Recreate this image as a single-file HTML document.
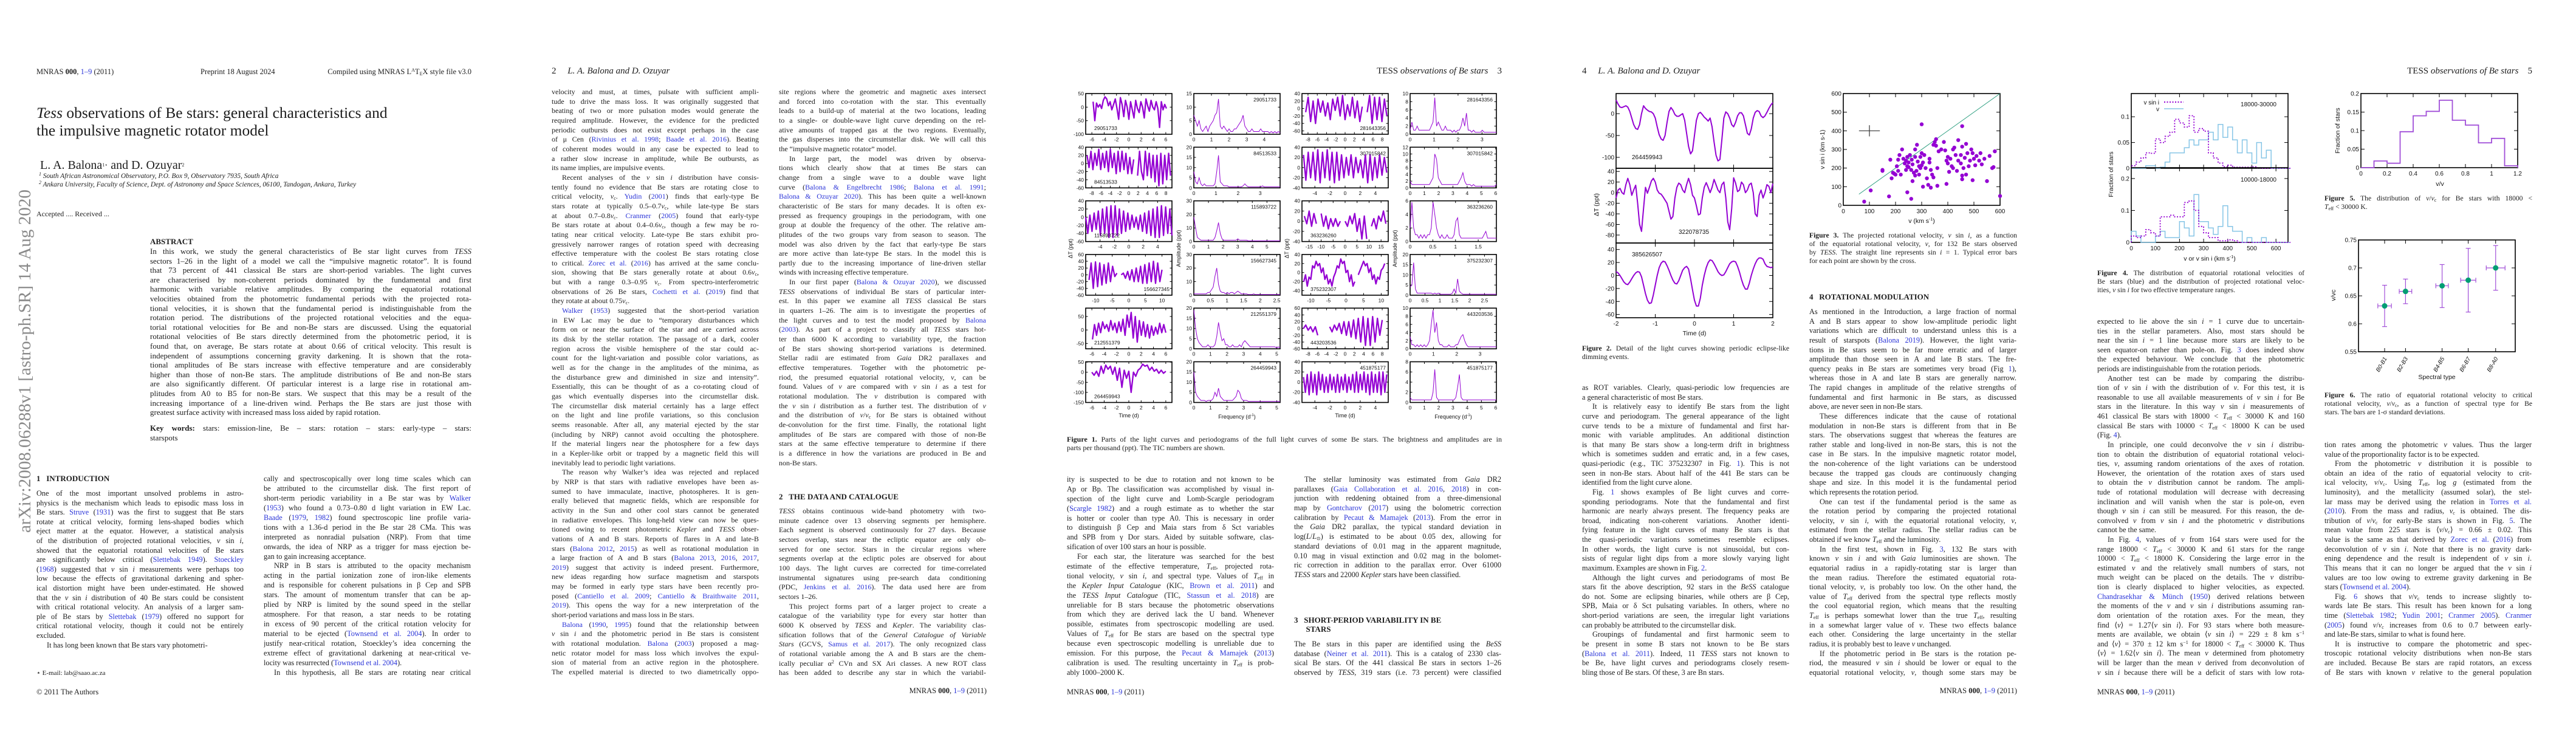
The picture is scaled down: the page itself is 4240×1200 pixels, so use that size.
<!DOCTYPE html>
<html><head><meta charset="utf-8">
<style>
html,body{margin:0;padding:0;background:#fff}
body{width:4240px;height:1200px;position:relative;overflow:hidden;font-family:"Liberation Serif",serif;color:#1c1c1c}
.pg{position:absolute;top:0;width:848px;height:1200px;overflow:hidden;background:#fff}
.abs{position:absolute;white-space:nowrap}
.col{position:absolute;width:341px;font-size:12.3px}
.col>div{height:var(--lh);line-height:var(--lh);overflow:hidden;text-align:justify;text-align-last:justify}
.col>div.e{text-align-last:left}
.col>div.i{text-indent:17px}
.c{color:#2b35d8}
sub{font-size:8px;vertical-align:-2px;line-height:0}
sup{font-size:8px;vertical-align:4px;line-height:0}
.cap{position:absolute;font-size:11.6px}
.cap>div{height:14px;line-height:14px;overflow:hidden;text-align:justify;text-align-last:justify}
.cap>div.e{text-align-last:left}
.hd{position:absolute;font-weight:bold;font-size:13px;white-space:nowrap}
svg.fig{position:absolute;left:0;top:0}
</style></head>
<body>

<!-- PAGE 1 -->
<div class="pg" style="left:0">
<svg class="fig" width="848" height="1200"><text x="0" y="0" transform="translate(50,877) rotate(-90)" font-family="Liberation Serif, serif" font-size="29" fill="#8a8a8a" textLength="565" lengthAdjust="spacingAndGlyphs">arXiv:2008.06288v1  [astro-ph.SR]  14 Aug 2020</text></svg>
<div class="abs" style="left:60px;top:111px;font-size:12.5px">MNRAS <b>000</b>, <span class="c">1–9</span> (2011)</div>
<div class="abs" style="left:330px;top:111px;font-size:12.5px">Preprint 18 August 2024</div>
<div class="abs" style="left:536px;top:111px;font-size:12.5px;width:240px;text-align:right">Compiled using MNRAS L<sup>A</sup>T<sub>E</sub>X style file v3.0</div>
<div class="abs" style="left:60px;top:171px;font-size:25.5px;line-height:29px"><i>Tess</i> observations of Be stars: general characteristics and<br>the impulsive magnetic rotator model</div>
<div class="abs" style="left:66px;top:261px;font-size:20px">L. A. Balona<sup>1⋆</sup> and D. Ozuyar<sup>2</sup></div>
<div class="abs" style="left:64px;top:284px;font-size:11.3px;font-style:italic"><sup>1</sup> South African Astronomical Observatory, P.O. Box 9, Observatory 7935, South Africa</div>
<div class="abs" style="left:64px;top:298px;font-size:11.3px;font-style:italic"><sup>2</sup> Ankara University, Faculty of Science, Dept. of Astronomy and Space Sciences, 06100, Tandogan, Ankara, Turkey</div>
<div class="abs" style="left:60px;top:345px;font-size:12px">Accepted .... Received ...</div>
<div class="hd" style="left:247px;top:390px">ABSTRACT</div>
<div class="col" style="left:247px;top:406px;width:529px;font-size:13px;--lh:15.6px">
<div>In this work, we study the general characteristics of Be star light curves from <i>TESS</i></div>
<div>sectors 1–26 in the light of a model we call the “impulsive magnetic rotator”. It is found</div>
<div>that 73 percent of 441 classical Be stars are short-period variables. The light curves</div>
<div>are characterised by non-coherent periods dominated by the fundamental and first</div>
<div>harmonic with variable relative amplitudes. By comparing the equatorial rotational</div>
<div>velocities obtained from the photometric fundamental periods with the projected rota-</div>
<div>tional velocities, it is shown that the fundamental period is indistinguishable from the</div>
<div>rotation period. The distributions of the projected rotational velocities and the equa-</div>
<div>torial rotational velocities for Be and non-Be stars are discussed. Using the equatorial</div>
<div>rotational velocities of Be stars directly determined from the photometric period, it is</div>
<div>found that, on average, Be stars rotate at about 0.66 of critical velocity. This result is</div>
<div>independent of assumptions concerning gravity darkening. It is shown that the rota-</div>
<div>tional amplitudes of Be stars increase with effective temperature and are considerably</div>
<div>higher than those of non-Be stars. The amplitude distributions of Be and non-Be stars</div>
<div>are also significantly different. Of particular interest is a large rise in rotational am-</div>
<div>plitudes from A0 to B5 for non-Be stars. We suspect that this may be a result of the</div>
<div>increasing importance of a line-driven wind. Perhaps the Be stars are just those with</div>
<div class="e">greatest surface activity with increased mass loss aided by rapid rotation.</div>
</div>
<div class="col" style="left:247px;top:697px;width:529px;font-size:13px;--lh:15.6px">
<div><b>Key words:</b> stars: emission-line, Be – stars: rotation – stars: early-type – stars:</div>
<div class="e">starspots</div>
</div>
<div class="hd" style="left:60px;top:780px">1&nbsp;&nbsp;&nbsp;INTRODUCTION</div>
<div class="col" style="left:60px;top:805px;--lh:15.6px">
<div>One of the most important unsolved problems in astro-</div>
<div>physics is the mechanism which leads to episodic mass loss in</div>
<div>Be stars. <span class="c">Struve</span> (<span class="c">1931</span>) was the first to suggest that Be stars</div>
<div>rotate at critical velocity, forming lens-shaped bodies which</div>
<div>eject matter at the equator. However, a statistical analysis</div>
<div>of the distribution of projected rotational velocities, <i>v</i> sin <i>i</i>,</div>
<div>showed that the equatorial rotational velocities of Be stars</div>
<div>are significantly below critical (<span class="c">Slettebak 1949</span>). <span class="c">Stoeckley</span></div>
<div>(<span class="c">1968</span>) suggested that <i>v</i> sin <i>i</i> measurements were perhaps too</div>
<div>low because the effects of gravitational darkening and spher-</div>
<div>ical distortion might have been under-estimated. He showed</div>
<div>that the <i>v</i> sin <i>i</i> distribution of 40 Be stars could be consistent</div>
<div>with critical rotational velocity. An analysis of a larger sam-</div>
<div>ple of Be stars by <span class="c">Slettebak</span> (<span class="c">1979</span>) offered no support for</div>
<div>critical rotational velocity, though it could not be entirely</div>
<div class="e">excluded.</div>
<div class="i e">It has long been known that Be stars vary photometri-</div>
</div>
<div class="col" style="left:434px;top:781px;--lh:15.95px">
<div>cally and spectroscopically over long time scales which can</div>
<div>be attributed to the circumstellar disk. The first report of</div>
<div>short-term periodic variability in a Be star was by <span class="c">Walker</span></div>
<div>(<span class="c">1953</span>) who found a 0.73–0.80 d light variation in EW Lac.</div>
<div><span class="c">Baade</span> (<span class="c">1979</span>, <span class="c">1982</span>) found spectroscopic line profile varia-</div>
<div>tions with a 1.36-d period in the Be star 28 CMa. This was</div>
<div>interpreted as nonradial pulsation (NRP). From that time</div>
<div>onwards, the idea of NRP as a trigger for mass ejection be-</div>
<div class="e">gan to gain increasing acceptance.</div>
<div class="i">NRP in B stars is attributed to the opacity mechanism</div>
<div>acting in the partial ionization zone of iron-like elements</div>
<div>and is responsible for coherent pulsations in β Cep and SPB</div>
<div>stars. The amount of momentum transfer that can be ap-</div>
<div>plied by NRP is limited by the sound speed in the stellar</div>
<div>atmosphere. For that reason, a star needs to be rotating</div>
<div>in excess of 90 percent of the critical rotation velocity for</div>
<div>material to be ejected (<span class="c">Townsend et al. 2004</span>). In order to</div>
<div>justify near-critical rotation, Stoeckley’s idea concerning the</div>
<div>extreme effect of gravitational darkening at near-critical ve-</div>
<div class="e">locity was resurrected (<span class="c">Townsend et al. 2004</span>).</div>
<div class="i">In this hypothesis, all Be stars are rotating near critical</div>
</div>
<div class="abs" style="left:60px;top:1101px;font-size:11px">⋆ E-mail: lab@saao.ac.za</div>
<div class="abs" style="left:60px;top:1132px;font-size:12.5px">© 2011 The Authors</div>
</div>

<!-- PAGE 2 -->
<div class="pg" style="left:848px">
<div class="abs" style="left:60px;top:109px;font-size:15px">2&nbsp;&nbsp;&nbsp;&nbsp;&nbsp;<i>L. A. Balona and D. Ozuyar</i></div>
<div class="col" style="left:60px;top:144px;font-size:12px;--lh:15.66px">
<div>velocity and must, at times, pulsate with sufficient ampli-</div>
<div>tude to drive the mass loss. It was originally suggested that</div>
<div>beating of two or more pulsation modes would generate the</div>
<div>required amplitude. However, the evidence for the predicted</div>
<div>periodic outbursts does not exist except perhaps in the case</div>
<div>of μ Cen (<span class="c">Rivinius et al. 1998</span>; <span class="c">Baade et al. 2016</span>). Beating</div>
<div>of coherent modes would in any case be expected to lead to</div>
<div>a rather slow increase in amplitude, while Be outbursts, as</div>
<div class="e">its name implies, are impulsive events.</div>
<div class="i">Recent analyses of the <i>v</i> sin <i>i</i> distribution have consis-</div>
<div>tently found no evidence that Be stars are rotating close to</div>
<div>critical velocity, <i>v</i><sub>c</sub>. <span class="c">Yudin</span> (<span class="c">2001</span>) finds that early-type Be</div>
<div>stars rotate at typically 0.5–0.7<i>v</i><sub>c</sub>, while late-type Be stars</div>
<div>at about 0.7–0.8<i>v</i><sub>c</sub>. <span class="c">Cranmer</span> (<span class="c">2005</span>) found that early-type</div>
<div>Be stars rotate at about 0.4–0.6<i>v</i><sub>c</sub>, though a few may be ro-</div>
<div>tating near critical velocity. Late-type Be stars exhibit pro-</div>
<div>gressively narrower ranges of rotation speed with decreasing</div>
<div>effective temperature with the coolest Be stars rotating close</div>
<div>to critical. <span class="c">Zorec et al.</span> (<span class="c">2016</span>) has arrived at the same conclu-</div>
<div>sion, showing that Be stars generally rotate at about 0.6<i>v</i><sub>c</sub>,</div>
<div>but with a range 0.3–0.95 <i>v</i><sub>c</sub>. From spectro-interferometric</div>
<div>observations of 26 Be stars, <span class="c">Cochetti et al.</span> (<span class="c">2019</span>) find that</div>
<div class="e">they rotate at about 0.75<i>v</i><sub>c</sub>.</div>
<div class="i"><span class="c">Walker</span> (<span class="c">1953</span>) suggested that the short-period variation</div>
<div>in EW Lac may be due to “temporary disturbances which</div>
<div>form on or near the surface of the star and are carried across</div>
<div>its disk by the stellar rotation. The passage of a dark, cooler</div>
<div>region across the visible hemisphere of the star could ac-</div>
<div>count for the light-variation and possible color variations, as</div>
<div>well as for the change in the amplitudes of the minima, as</div>
<div>the disturbance grew and diminished in size and intensity”.</div>
<div>Essentially, this can be thought of as a co-rotating cloud of</div>
<div>gas which eventually disperses into the circumstellar disk.</div>
<div>The circumstellar disk material certainly has a large effect</div>
<div>on the light and line profile variations, so this conclusion</div>
<div>seems reasonable. After all, any material ejected by the star</div>
<div>(including by NRP) cannot avoid occulting the photosphere.</div>
<div>If the material lingers near the photosphere for a few days</div>
<div>in a Kepler-like orbit or trapped by a magnetic field this will</div>
<div class="e">inevitably lead to periodic light variations.</div>
<div class="i">The reason why Walker’s idea was rejected and replaced</div>
<div>by NRP is that stars with radiative envelopes have been as-</div>
<div>sumed to have immaculate, inactive, photospheres. It is gen-</div>
<div>erally believed that magnetic fields, which are responsible for</div>
<div>activity in the Sun and other cool stars cannot be generated</div>
<div>in radiative envelopes. This long-held view can now be ques-</div>
<div>tioned owing to recent photometric <i>Kepler</i> and <i>TESS</i> obser-</div>
<div>vations of A and B stars. Reports of flares in A and late-B</div>
<div>stars (<span class="c">Balona 2012</span>, <span class="c">2015</span>) as well as rotational modulation in</div>
<div>a large fraction of A and B stars (<span class="c">Balona 2013</span>, <span class="c">2016</span>, <span class="c">2017</span>,</div>
<div><span class="c">2019</span>) suggest that activity is indeed present. Furthermore,</div>
<div>new ideas regarding how surface magnetism and starspots</div>
<div>may be formed in early type stars have been recently pro-</div>
<div>posed (<span class="c">Cantiello et al. 2009</span>; <span class="c">Cantiello &amp; Braithwaite 2011</span>,</div>
<div><span class="c">2019</span>). This opens the way for a new interpretation of the</div>
<div class="e">short-period variations and mass loss in Be stars.</div>
<div class="i"><span class="c">Balona</span> (<span class="c">1990</span>, <span class="c">1995</span>) found that the relationship between</div>
<div><i>v</i> sin <i>i</i> and the photometric period in Be stars is consistent</div>
<div>with rotational modulation. <span class="c">Balona</span> (<span class="c">2003</span>) proposed a mag-</div>
<div>netic rotator model for mass loss which involves the expul-</div>
<div>sion of material from an active region in the photosphere.</div>
<div>The expelled material is directed to two diametrically oppo-</div>
</div>
<div class="col" style="left:434px;top:144px;font-size:12px;--lh:15.66px">
<div>site regions where the geometric and magnetic axes intersect</div>
<div>and forced into co-rotation with the star. This eventually</div>
<div>leads to a build-up of material at the two locations, leading</div>
<div>to a single- or double-wave light curve depending on the rel-</div>
<div>ative amounts of trapped gas at the two regions. Eventually,</div>
<div>the gas disperses into the circumstellar disk. We will call this</div>
<div class="e">the “impulsive magnetic rotator” model.</div>
<div class="i">In large part, the model was driven by observa-</div>
<div>tions which clearly show that at times Be stars can</div>
<div>change from a single wave to a double wave light</div>
<div>curve (<span class="c">Balona &amp; Engelbrecht 1986</span>; <span class="c">Balona et al. 1991</span>;</div>
<div><span class="c">Balona &amp; Ozuyar 2020</span>). This has been quite a well-known</div>
<div>characteristic of Be stars for many decades. It is often ex-</div>
<div>pressed as frequency groupings in the periodogram, with one</div>
<div>group at double the frequency of the other. The relative am-</div>
<div>plitudes of the two groups vary from season to season. The</div>
<div>model was also driven by the fact that early-type Be stars</div>
<div>are more active than late-type Be stars. In the model this is</div>
<div>partly due to the increasing importance of line-driven stellar</div>
<div class="e">winds with increasing effective temperature.</div>
<div class="i">In our first paper (<span class="c">Balona &amp; Ozuyar 2020</span>), we discussed</div>
<div><i>TESS</i> observations of individual Be stars of particular inter-</div>
<div>est. In this paper we examine all <i>TESS</i> classical Be stars</div>
<div>in quarters 1–26. The aim is to investigate the properties of</div>
<div>the light curves and to test the model proposed by <span class="c">Balona</span></div>
<div>(<span class="c">2003</span>). As part of a project to classify all <i>TESS</i> stars hot-</div>
<div>ter than 6000 K according to variability type, the fraction</div>
<div>of Be stars showing short-period variations is determined.</div>
<div>Stellar radii are estimated from <i>Gaia</i> DR2 parallaxes and</div>
<div>effective temperatures. Together with the photometric pe-</div>
<div>riod, the presumed equatorial rotational velocity, <i>v</i>, can be</div>
<div>found. Values of <i>v</i> are compared with <i>v</i> sin <i>i</i> as a test for</div>
<div>rotational modulation. The <i>v</i> distribution is compared with</div>
<div>the <i>v</i> sin <i>i</i> distribution as a further test. The distribution of <i>v</i></div>
<div>and the distribution of <i>v</i>/<i>v</i><sub>c</sub> for Be stars is obtained without</div>
<div>de-convolution for the first time. Finally, the rotational light</div>
<div>amplitudes of Be stars are compared with those of non-Be</div>
<div>stars at the same effective temperature to determine if there</div>
<div>is a difference in how the variations are produced in Be and</div>
<div class="e">non-Be stars.</div>
</div>
<div class="hd" style="left:434px;top:810px">2&nbsp;&nbsp;&nbsp;THE DATA AND CATALOGUE</div>
<div class="col" style="left:434px;top:834px;font-size:12px;--lh:15.66px">
<div><i>TESS</i> obtains continuous wide-band photometry with two-</div>
<div>minute cadence over 13 observing segments per hemisphere.</div>
<div>Each segment is observed continuously for 27 days. Because</div>
<div>sectors overlap, stars near the ecliptic equator are only ob-</div>
<div>served for one sector. Stars in the circular regions where</div>
<div>segments overlap at the ecliptic poles are observed for about</div>
<div>100 days. The light curves are corrected for time-correlated</div>
<div>instrumental signatures using pre-search data conditioning</div>
<div>(PDC, <span class="c">Jenkins et al. 2016</span>). The data used here are from</div>
<div class="e">sectors 1–26.</div>
<div class="i">This project forms part of a larger project to create a</div>
<div>catalogue of the variability type for every star hotter than</div>
<div>6000 K observed by <i>TESS</i> and <i>Kepler</i>. The variability clas-</div>
<div>sification follows that of the <i>General Catalogue of Variable</i></div>
<div><i>Stars</i> (GCVS, <span class="c">Samus et al. 2017</span>). The only recognized class</div>
<div>of rotational variable among the A and B stars are the chem-</div>
<div>ically peculiar α<sup>2</sup> CVn and SX Ari classes. A new ROT class</div>
<div>has been added to describe any star in which the variabil-</div>
</div>
<div class="abs" style="left:576px;top:1130px;width:200px;text-align:right;font-size:12.5px">MNRAS <b>000</b>, <span class="c">1–9</span> (2011)</div>
</div>

<!-- PAGE 3 -->
<div class="pg" style="left:1696px">
<div class="abs" style="left:520px;top:109px;width:256px;text-align:right;font-size:15px">TESS <i>observations of Be stars</i>&nbsp;&nbsp;&nbsp;&nbsp;3</div>
<svg class="fig" id="fig1" width="848" height="720"></svg>
<div class="cap" style="left:60px;top:716px;width:716px;font-size:12px">
<div><b>Figure 1.</b> Parts of the light curves and periodograms of the full light curves of some Be stars. The brightness and amplitudes are in</div>
<div class="e">parts per thousand (ppt). The TIC numbers are shown.</div>
</div>
<div class="col" style="left:60px;top:782px;--lh:15.9px">
<div>ity is suspected to be due to rotation and not known to be</div>
<div>Ap or Bp. The classification was accomplished by visual in-</div>
<div>spection of the light curve and Lomb-Scargle periodogram</div>
<div>(<span class="c">Scargle 1982</span>) and a rough estimate as to whether the star</div>
<div>is hotter or cooler than type A0. This is necessary in order</div>
<div>to distinguish β Cep and Maia stars from δ Sct variables</div>
<div>and SPB from γ Dor stars. Aided by suitable software, clas-</div>
<div class="e">sification of over 100 stars an hour is possible.</div>
<div class="i">For each star, the literature was searched for the best</div>
<div>estimate of the effective temperature, <i>T</i><sub>eff</sub>, projected rota-</div>
<div>tional velocity, <i>v</i> sin <i>i</i>, and spectral type. Values of <i>T</i><sub>eff</sub> in</div>
<div>the <i>Kepler Input Catalogue</i> (KIC, <span class="c">Brown et al. 2011</span>) and</div>
<div>the <i>TESS Input Catalogue</i> (TIC, <span class="c">Stassun et al. 2018</span>) are</div>
<div>unreliable for B stars because the photometric observations</div>
<div>from which they are derived lack the U band. Whenever</div>
<div>possible, estimates from spectroscopic modelling are used.</div>
<div>Values of <i>T</i><sub>eff</sub> for Be stars are based on the spectral type</div>
<div>because even spectroscopic modelling is unreliable due to</div>
<div>emission. For this purpose, the <span class="c">Pecaut &amp; Mamajek</span> (<span class="c">2013</span>)</div>
<div>calibration is used. The resulting uncertainty in <i>T</i><sub>eff</sub> is prob-</div>
<div class="e">ably 1000–2000 K.</div>
</div>
<div class="col" style="left:434px;top:782px;--lh:15.7px">
<div class="i">The stellar luminosity was estimated from <i>Gaia</i> DR2</div>
<div>parallaxes (<span class="c">Gaia Collaboration et al. 2016</span>, <span class="c">2018</span>) in con-</div>
<div>junction with reddening obtained from a three-dimensional</div>
<div>map by <span class="c">Gontcharov</span> (<span class="c">2017</span>) using the bolometric correction</div>
<div>calibration by <span class="c">Pecaut &amp; Mamajek</span> (<span class="c">2013</span>). From the error in</div>
<div>the <i>Gaia</i> DR2 parallax, the typical standard deviation in</div>
<div>log(<i>L</i>/<i>L</i><sub>⊙</sub>) is estimated to be about 0.05 dex, allowing for</div>
<div>standard deviations of 0.01 mag in the apparent magnitude,</div>
<div>0.10 mag in visual extinction and 0.02 mag in the bolomet-</div>
<div>ric correction in addition to the parallax error. Over 61000</div>
<div class="e"><i>TESS</i> stars and 22000 <i>Kepler</i> stars have been classified.</div>
</div>
<div class="hd" style="left:434px;top:1013px;line-height:15px">3&nbsp;&nbsp;&nbsp;SHORT-PERIOD VARIABILITY IN BE<br>&nbsp;&nbsp;&nbsp;&nbsp;&nbsp;&nbsp;STARS</div>
<div class="col" style="left:434px;top:1053px;--lh:15.7px">
<div>The Be stars in this paper are identified using the <i>BeSS</i></div>
<div>database (<span class="c">Neiner et al. 2011</span>). This is a catalog of 2330 clas-</div>
<div>sical Be stars. Of the 441 classical Be stars in sectors 1–26</div>
<div>observed by <i>TESS</i>, 319 stars (i.e. 73 percent) were classified</div>
</div>
<div class="abs" style="left:60px;top:1132px;font-size:12.5px">MNRAS <b>000</b>, <span class="c">1–9</span> (2011)</div>
</div>

<!-- PAGE 4 -->
<div class="pg" style="left:2544px">
<div class="abs" style="left:60px;top:109px;font-size:15px">4&nbsp;&nbsp;&nbsp;&nbsp;&nbsp;<i>L. A. Balona and D. Ozuyar</i></div>
<svg class="fig" id="fig23" width="848" height="600"></svg>
<div class="cap" style="left:60px;top:567px;width:341px">
<div><b>Figure 2.</b> Detail of the light curves showing periodic eclipse-like</div>
<div class="e">dimming events.</div>
</div>
<div class="cap" style="left:434px;top:381px;width:342px">
<div><b>Figure 3.</b> The projected rotational velocity, <i>v</i> sin <i>i</i>, as a function</div>
<div>of the equatorial rotational velocity, <i>v</i>, for 132 Be stars observed</div>
<div>by <i>TESS</i>. The straight line represents sin <i>i</i> = 1. Typical error bars</div>
<div class="e">for each point are shown by the cross.</div>
</div>
<div class="col" style="left:60px;top:631px;--lh:15.63px">
<div>as ROT variables. Clearly, quasi-periodic low frequencies are</div>
<div class="e">a general characteristic of most Be stars.</div>
<div class="i">It is relatively easy to identify Be stars from the light</div>
<div>curve and periodogram. The general appearance of the light</div>
<div>curve tends to be a mixture of fundamental and first har-</div>
<div>monic with variable amplitudes. An additional distinction</div>
<div>is that many Be stars show a long-term drift in brightness</div>
<div>which is sometimes sudden and erratic and, in a few cases,</div>
<div>quasi-periodic (e.g., TIC 375232307 in Fig. <span class="c">1</span>). This is not</div>
<div>seen in non-Be stars. About half of the 441 Be stars can be</div>
<div class="e">identified from the light curve alone.</div>
<div class="i">Fig. <span class="c">1</span> shows examples of Be light curves and corre-</div>
<div>sponding periodograms. Note that the fundamental and first</div>
<div>harmonic are nearly always present. The frequency peaks are</div>
<div>broad, indicating non-coherent variations. Another identi-</div>
<div>fying feature in the light curves of many Be stars is that</div>
<div>the quasi-periodic variations sometimes resemble eclipses.</div>
<div>In other words, the light curve is not sinusoidal, but con-</div>
<div>sists of regular light dips from a more slowly varying light</div>
<div class="e">maximum. Examples are shown in Fig. <span class="c">2</span>.</div>
<div class="i">Although the light curves and periodograms of most Be</div>
<div>stars fit the above description, 92 stars in the <i>BeSS</i> catalogue</div>
<div>do not. Some are eclipsing binaries, while others are β Cep,</div>
<div>SPB, Maia or δ Sct pulsating variables. In others, where no</div>
<div>short-period variations are seen, the irregular light variations</div>
<div class="e">can probably be attributed to the circumstellar disk.</div>
<div class="i">Groupings of fundamental and first harmonic seem to</div>
<div>be present in some B stars not known to be Be stars</div>
<div>(<span class="c">Balona et al. 2011</span>). Indeed, 11 <i>TESS</i> stars not known to</div>
<div>be Be, have light curves and periodograms closely resem-</div>
<div class="e">bling those of Be stars. Of these, 3 are Bn stars.</div>
</div>
<div class="hd" style="left:434px;top:481px">4&nbsp;&nbsp;&nbsp;ROTATIONAL MODULATION</div>
<div class="col" style="left:434px;top:506px;--lh:15.63px">
<div>As mentioned in the Introduction, a large fraction of normal</div>
<div>A and B stars appear to show low-amplitude periodic light</div>
<div>variations which are difficult to understand unless this is a</div>
<div>result of starspots (<span class="c">Balona 2019</span>). However, the light varia-</div>
<div>tions in Be stars seem to be far more erratic and of larger</div>
<div>amplitude than those seen in A and late B stars. The fre-</div>
<div>quency peaks in Be stars are sometimes very broad (Fig <span class="c">1</span>),</div>
<div>whereas those in A and late B stars are generally narrow.</div>
<div>The rapid changes in amplitude of the relative strengths of</div>
<div>fundamental and first harmonic in Be stars, as discussed</div>
<div class="e">above, are never seen in non-Be stars.</div>
<div class="i">These differences indicate that the cause of rotational</div>
<div>modulation in non-Be stars is different from that in Be</div>
<div>stars. The observations suggest that whereas the features are</div>
<div>rather stable and long-lived in non-Be stars, this is not the</div>
<div>case in Be stars. In the impulsive magnetic rotator model,</div>
<div>the non-coherence of the light variations can be understood</div>
<div>because the trapped gas clouds are continuously changing</div>
<div>shape and size. In this model it is the fundamental period</div>
<div class="e">which represents the rotation period.</div>
<div class="i">One can test if the fundamental period is the same as</div>
<div>the rotation period by comparing the projected rotational</div>
<div>velocity, <i>v</i> sin <i>i</i>, with the equatorial rotational velocity, <i>v</i>,</div>
<div>estimated from the stellar radius. The stellar radius can be</div>
<div class="e">obtained if we know <i>T</i><sub>eff</sub> and the luminosity.</div>
<div class="i">In the first test, shown in Fig. <span class="c">3</span>, 132 Be stars with</div>
<div>known <i>v</i> sin <i>i</i> and with <i>Gaia</i> luminosities are shown. The</div>
<div>equatorial radius in a rapidly-rotating star is larger than</div>
<div>the mean radius. Therefore the estimated equatorial rota-</div>
<div>tional velocity, <i>v</i>, is probably too low. On the other hand, the</div>
<div>value of <i>T</i><sub>eff</sub> derived from the spectral type reflects mostly</div>
<div>the cool equatorial region, which means that the resulting</div>
<div><i>T</i><sub>eff</sub> is perhaps somewhat lower than the true <i>T</i><sub>eff</sub>, resulting</div>
<div>in a somewhat larger value of <i>v</i>. These two effects balance</div>
<div>each other. Considering the large uncertainty in the stellar</div>
<div class="e">radius, it is probably best to leave <i>v</i> unchanged.</div>
<div class="i">If the photometric period in Be stars is the rotation pe-</div>
<div>riod, the measured <i>v</i> sin <i>i</i> should be lower or equal to the</div>
<div>equatorial rotational velocity, <i>v</i>, though some stars may be</div>
</div>
<div class="abs" style="left:576px;top:1130px;width:200px;text-align:right;font-size:12.5px">MNRAS <b>000</b>, <span class="c">1–9</span> (2011)</div>
</div>

<!-- PAGE 5 -->
<div class="pg" style="left:3392px">
<div class="abs" style="left:520px;top:109px;width:256px;text-align:right;font-size:15px">TESS <i>observations of Be stars</i>&nbsp;&nbsp;&nbsp;&nbsp;5</div>
<svg class="fig" id="fig456" width="848" height="640"></svg>
<div class="cap" style="left:60px;top:443px;width:341px">
<div><b>Figure 4.</b> The distribution of equatorial rotational velocities of</div>
<div>Be stars (blue) and the distribution of projected rotational veloc-</div>
<div class="e">ities, <i>v</i> sin <i>i</i> for two effective temperature ranges.</div>
</div>
<div class="cap" style="left:434px;top:320px;width:342px">
<div><b>Figure 5.</b> The distribution of <i>v</i>/<i>v</i><sub>c</sub> for Be stars with 18000 &lt;</div>
<div class="e"><i>T</i><sub>eff</sub> &lt; 30000 K.</div>
</div>
<div class="cap" style="left:434px;top:644px;width:342px">
<div><b>Figure 6.</b> The ratio of equatorial rotational velocity to critical</div>
<div>rotational velocity, <i>v</i>/<i>v</i><sub>c</sub>, as a function of spectral type for Be</div>
<div class="e">stars. The bars are 1-σ standard deviations.</div>
</div>
<div class="col" style="left:60px;top:522px;--lh:15.62px">
<div>expected to lie above the sin <i>i</i> = 1 curve due to uncertain-</div>
<div>ties in the stellar parameters. Also, most stars should be</div>
<div>near the sin <i>i</i> = 1 line because more stars are likely to be</div>
<div>seen equator-on rather than pole-on. Fig. <span class="c">3</span> does indeed show</div>
<div>the expected behaviour. We conclude that the photometric</div>
<div class="e">periods are indistinguishable from the rotation periods.</div>
<div class="i">Another test can be made by comparing the distribu-</div>
<div>tion of <i>v</i> sin <i>i</i> with the distribution of <i>v</i>. For this test, it is</div>
<div>reasonable to use all available measurements of <i>v</i> sin <i>i</i> for Be</div>
<div>stars in the literature. In this way <i>v</i> sin <i>i</i> measurements of</div>
<div>461 classical Be stars with 18000 &lt; <i>T</i><sub>eff</sub> &lt; 30000 K and 160</div>
<div>classical Be stars with 10000 &lt; <i>T</i><sub>eff</sub> &lt; 18000 K can be used</div>
<div class="e">(Fig. <span class="c">4</span>).</div>
<div class="i">In principle, one could deconvolve the <i>v</i> sin <i>i</i> distribu-</div>
<div>tion to obtain the distribution of equatorial rotational veloci-</div>
<div>ties, <i>v</i>, assuming random orientations of the axes of rotation.</div>
<div>However, the orientation of the rotation axes of stars used</div>
<div>to obtain the <i>v</i> distribution cannot be random. The ampli-</div>
<div>tude of rotational modulation will decrease with decreasing</div>
<div>inclination and will vanish when the star is pole-on, even</div>
<div>though <i>v</i> sin <i>i</i> can still be measured. For this reason, the de-</div>
<div>convolved <i>v</i> from <i>v</i> sin <i>i</i> and the photometric <i>v</i> distributions</div>
<div class="e">cannot be the same.</div>
<div class="i">In Fig. <span class="c">4</span>, values of <i>v</i> from 164 stars were used for the</div>
<div>range 18000 &lt; <i>T</i><sub>eff</sub> &lt; 30000 K and 61 stars for the range</div>
<div>10000 &lt; <i>T</i><sub>eff</sub> &lt; 18000 K. Considering the large error in the</div>
<div>estimated <i>v</i> and the relatively small numbers of stars, not</div>
<div>much weight can be placed on the details. The <i>v</i> distribu-</div>
<div>tion is clearly displaced to higher velocities, as expected.</div>
<div><span class="c">Chandrasekhar &amp; Münch</span> (<span class="c">1950</span>) derived relations between</div>
<div>the moments of the <i>v</i> and <i>v</i> sin <i>i</i> distributions assuming ran-</div>
<div>dom orientation of the rotation axes. For the mean, they</div>
<div>find ⟨<i>v</i>⟩ = 1.27⟨<i>v</i> sin <i>i</i>⟩. For 93 stars where both measure-</div>
<div>ments are available, we obtain ⟨<i>v</i> sin <i>i</i>⟩ = 229 ± 8 km s<sup>−1</sup></div>
<div>and ⟨<i>v</i>⟩ = 370 ± 12 km s<sup>−1</sup> for 18000 &lt; <i>T</i><sub>eff</sub> &lt; 30000 K. Thus</div>
<div>⟨<i>v</i>⟩ = 1.62⟨<i>v</i> sin <i>i</i>⟩. The mean <i>v</i> determined from photometry</div>
<div>will be larger than the mean <i>v</i> derived from deconvolution of</div>
<div><i>v</i> sin <i>i</i> because there will be a deficit of stars with low rota-</div>
</div>
<div class="col" style="left:434px;top:725px;--lh:15.62px">
<div>tion rates among the photometric <i>v</i> values. Thus the larger</div>
<div class="e">value of the proportionality factor is to be expected.</div>
<div class="i">From the photometric <i>v</i> distribution it is possible to</div>
<div>obtain an idea of the ratio of equatorial velocity to crit-</div>
<div>ical velocity, <i>v</i>/<i>v</i><sub>c</sub>. Using <i>T</i><sub>eff</sub>, log <i>g</i> (estimated from the</div>
<div>luminosity), and the metallicity (assumed solar), the stel-</div>
<div>lar mass may be derived using the relation in <span class="c">Torres et al.</span></div>
<div>(<span class="c">2010</span>). From the mass and radius, <i>v</i><sub>c</sub> is obtained. The dis-</div>
<div>tribution of <i>v</i>/<i>v</i><sub>c</sub> for early-Be stars is shown in Fig. <span class="c">5</span>. The</div>
<div>mean value from 225 stars is ⟨<i>v</i>/<i>v</i><sub>c</sub>⟩ = 0.66 ± 0.02. This</div>
<div>value is the same as that derived by <span class="c">Zorec et al.</span> (<span class="c">2016</span>) from</div>
<div>deconvolution of <i>v</i> sin <i>i</i>. Note that there is no gravity dark-</div>
<div>ening dependence and the result is independent of <i>v</i> sin <i>i</i>.</div>
<div>This means that it can no longer be argued that the <i>v</i> sin <i>i</i></div>
<div>values are too low owing to extreme gravity darkening in Be</div>
<div class="e">stars (<span class="c">Townsend et al. 2004</span>).</div>
<div class="i">Fig. <span class="c">6</span> shows that <i>v</i>/<i>v</i><sub>c</sub> tends to increase slightly to-</div>
<div>wards late Be stars. This result has been known for a long</div>
<div>time (<span class="c">Slettebak 1982</span>; <span class="c">Yudin 2001</span>; <span class="c">Cranmer 2005</span>). <span class="c">Cranmer</span></div>
<div>(<span class="c">2005</span>) found <i>v</i>/<i>v</i><sub>c</sub> increases from 0.6 to 0.7 between early-</div>
<div class="e">and late-Be stars, similar to what is found here.</div>
<div class="i">It is instructive to compare the photometric and spec-</div>
<div>troscopic rotational velocity distributions when non-Be stars</div>
<div>are included. Because Be stars are rapid rotators, an excess</div>
<div>of Be stars with known <i>v</i> relative to the general population</div>
</div>
<div class="abs" style="left:60px;top:1132px;font-size:12.5px">MNRAS <b>000</b>, <span class="c">1–9</span> (2011)</div>
</div>

<script>
// ===== Figure 1 data =====
const lcIds = ['29051733','281643356','84513533','307015842','115893722','363236260','156627345','375232307','212551379','443203536','264459943','451875177'];
const lcX0 = [-5.8,-8.5,-9,-5.5,-6,-17,-12,-12,-5.9,-9,-6,-5.5];
const lcX1 = [6.1,9,9,5.5,6,17,10,11,6,8,6,5.5];
const lcYmin = [-100,-69,-60,-40,-60,-40,-60,-50,-70,-60,-150,-40];
const lcYmax = [50,40,40,40,40,40,60,40,81,60,52,40];
const lcYticks = [[50,0,-50,-100],[40,20,0,-20,-40,-60],[40,20,0,-20,-40,-60],[40,20,0,-20,-40],[40,20,0,-20,-40,-60],[40,20,0,-20,-40],[60,40,20,0,-20,-40,-60],[40,20,0,-20,-40],[50,0,-50],[60,40,20,0,-20,-40,-60],[50,0,-50,-100,-150],[40,20,0,-20,-40]];
const lcXmin = [-7,-9.3,-9.3,-5.7,-6,-18,-13,-12.5,-7,-9.3,-7,-5.7];
const lcXmax = [7,9.3,9.3,5.7,6,18,13,12,7,9.3,7,5.7];
const lcXticks = [[-6,-4,-2,0,2,4,6],[-8,-6,-4,-2,0,2,4,6,8],[-8,-6,-4,-2,0,2,4,6,8],[-4,-2,0,2,4],[-4,-2,0,2,4],[-15,-10,-5,0,5,10,15],[-10,-5,0,5,10],[-10,-5,0,5,10],[-6,-4,-2,0,2,4,6],[-8,-6,-4,-2,0,2,4,6,8],[-6,-4,-2,0,2,4,6],[-4,-2,0,2,4]];
const lc0 = [20,-50,15,0,10,-5,25,38,30,5,20,-10,10,30,-5,-45,35,10,-35,25,0,-45,20,-10,-40,25,-5,-20,20,0,-40,30,5,-15,25,0,-10,20,-5,-75,20,-10,10,-5];
const lc1 = [-10,30,-35,20,-40,25,-10,20,-20,15,-30,25,-5,30,-20,35,-30,10,-20,30,-25,20,-35,5,null,-10,35,-40,30,-30,30,-35,25,-20];
const lc2 = [20,-10,30,-15,25,-5,35,-15,25,-10,30,-20,35,-10,25,-25,30,-20,30,-15,25,-25,15,-25,10,null,-30,30,-20,-40,30,-30,25,-35,20,-45,20,-55,25,-50,20,-40,25,-30];
const lc3 = [25,-25,30,-20,30,-25,35,-30,30,-20,35,-25,30,-30,30,-25,25,-20,20,-15,25,-20,20,-10,15,-20,25,-30,25,-25,20,-20,25,-15,20,-10];
const lc4 = [0,-40,5,-35,10,-30,15,-45,20,-40,25,-50,28,-50,28,-45,20,-40,15,-35,10,-30,5,-25,0,-30,5,-35,10,-40,15,-45,20,-50,25,-50,28,-45,25,-40,20,-45];
const lc5 = [10,-5,20,-10,15,-5,null,15,-10,10,-15,5,-10,5,-10,0,null,0,-10,10,-5,15,-20,5,-35,10,-35,null,-10,5,-15,10,0,20,-5];
const lc6 = [-15,35,-40,38,-35,35,-30,30,-25,35,-20,25,-5,5,null,0,5,-10,10,-15,15,-20,20,-20,25,-25,30,-25,35,-20,40,-25,35,-20,15];
const lc7 = [-20,-5,-30,-10,-15,15,10,25,15,20,0,10,-15,-5,-25,-15,-30,-10,0,15,10,30,20,25,0,5,-20,-5,-30,-20,null,-5,5,15,25,15,20,0,10,-15,-5,-25,-10,-15,5,10,20];
const lc8 = [-35,20,-20,25,-10,30,5,20,-5,35,0,25,-10,30,-5,40,-20,55,10,65,-30,50,-45,35,-20,30,-25,20,-30,15,-20,10,-15,25,-10,20,-10];
const lc9 = [0,10,-5,5,-10,5,-20,null,null,null,null,5,-10,10,-5,15,-15,20,-20,20,-25,25,-30,30,-40,35,-50,30,-50,35,-40,30,-20,25];
const lc10 = [0,-15,5,-20,30,-5,35,15,30,-10,25,-40,20,-75,10,-30,5,-100,0,-20,10,20,40,30,35,10,25,5,15,-5,10,-5,5];
const lc11 = [10,-20,15,-25,20,-20,15,-25,20,-15,15,-20,10,-20,15,-15,10,-20,15,-20,10,-15,15,-20,10,-15,15,-20,20,-20,15,-15,20,-20,15,-25,20,-20,15,-20,20,-25,20,-20,15];
const lcVals = [lc0,lc1,lc2,lc3,lc4,lc5,lc6,lc7,lc8,lc9,lc10,lc11];

const pgXmax = [4.9,3.6,3.9,6.05,5.9,1.9,2.6,2.9,5.2,3.7,5.2,6.05];
const pgYmax = [15,10,20,12,30,6,30,20,20,10,20,8];
const pgYticks = [[0,5,10,15],[0,2,4,6,8,10],[0,5,10,15,20],[0,2,4,6,8,10,12],[0,10,20,30],[0,2,4,6],[0,10,20,30],[0,5,10,15,20],[0,5,10,15,20],[0,2,4,6,8,10],[0,5,10,15,20],[0,2,4,6,8]];
const pgXticks = [[0,1,2,3,4],[0,1,2,3],[0,1,2,3],[0,1,2,3,4,5,6],[0,1,2,3,4,5],[0,0.5,1,1.5],[0,0.5,1,1.5,2,2.5],[0,0.5,1,1.5,2,2.5],[0,1,2,3,4,5],[0,1,2,3],[0,1,2,3,4,5],[0,1,2,3,4,5,6]];
const pg0 = [7,5,3,5,2,1,2,3,1,3,4,5,7,8,13,3,2,3,2,1,2,1,1,2,2,3,4,5,7,3,2,1,1,2,1,1,1,1,2,1,1,1,1,0.5,1,0.5,1,0.5,1,0.5];
const pg1 = [1,3,1,1,2,1,1,1,1,1,1,1,2,3,9,2,3,2,1,1,2,1,1,1,0.5,1,0.5,1,1,2,4,2,5.2,1,1,0.5,1,0.5,0.5,0.5,0.5,1,0.5,0.5,0.5,0.5,0.5,0.5,0.5,0.5];
const pg2 = [8,3,2,5,2,1,2,1,1,1,1,1,2,8,16,3,2,1,1,1,0.5,0.5,0.5,0.5,0.5,0.5,0.5,0.5,1,2,1,0.5,0.5,0.5,0.5,0.5,0.5,0.5,0.5,1,0.5,0.5,0.5,0.5,0.5,0.5,0.5,0.5,0.5,0.5];
const pg3 = [2,1,1,1,1,1,1,1,1,1,1,1,2,3,10,8.5,3,2,1,1,1,1,1,1,1,1,1,1,2,3,4.5,2,1,1,1,0.5,1,0.5,0.5,0.5,0.5,0.5,0.5,0.5,0.5,0.5,0.5,0.5,0.5,1];
const pg4 = [18,10,3,2,1,1,1,1,1,1,1,1,3,8,14,6,2,1,1,1,1,1,1,1,1,2,1,1,1,1,1,0.5,0.5,0.5,0.5,0.5,0.5,0.5,0.5,0.5,0.5,0.5,0.5,0.5,0.5,0.5,0.5,0.5,0.5,0.5];
const pg5 = [2,5.8,2,1,1,0.5,1,0.5,1,0.5,1,1,2,5.8,4,2,1,0.5,1,0.5,0.5,1,0.5,0.5,0.5,1,3,3.5,1,0.5,0.5,0.5,0.5,0.5,0.5,0.5,0.5,0.5,0.5,0.5,0.5,0.5,1,1.5,0.5,0.5,0.5,0.5,0.5,0.5];
const pg6 = [1,1,1,1,1,1,1,1,2,2,4,6,14,20,8,3,2,2,1,2,1,2,2,1,2,3,2,1,1,1,1,0.5,0.5,0.5,1,0.5,0.5,0.5,0.5,0.5,0.5,0.5,0.5,0.5,0.5,0.5,0.5,0.5,0.5,0.5];
const pg7 = [4,5,16,3,1,1,1,1,1,1,1,1,1,0.5,1,0.5,1,0.5,0.5,0.5,0.5,0.5,0.5,0.5,1,3,1,8,2,1,0.5,0.5,0.5,0.5,0.5,0.5,0.5,0.5,0.5,0.5,0.5,0.5,0.5,0.5,0.5,0.5,0.5,0.5,0.5,0.5];
const pg8 = [19,10,5,3,2,1,1,1,2,1,1,1,2,6,13,8,4,5,2,2,1,1,2,1,1,1,2,1,3,4,3,2,1,1,1,1,1,1,1,1,1,1,1,1,1,1,1,0.5,1,0.5];
const pg9 = [3,1,1,0.5,1,0.5,1,0.5,1,0.5,1,2,6,9.5,4,6.5,2,1,1,0.5,0.5,0.5,1,0.5,0.5,0.5,1,1,2,3,3.5,2,1,0.5,0.5,0.5,0.5,0.5,0.5,0.5,0.5,0.5,0.5,0.5,0.5,0.5,0.5,0.5,0.5,0.5];
const pg10 = [15,5,3,2,1,1,1,0.5,1,1,1,2,5,3,7,3,2,1,1,1,1,1,1,2,3,6,5,2,1,1,1,0.5,0.5,0.5,0.5,0.5,0.5,0.5,0.5,0.5,0.5,0.5,0.5,0.5,0.5,0.5,0.5,0.5,0.5,0.5];
const pg11 = [1,0.5,0.5,0.5,0.5,0.5,0.5,0.5,0.5,0.5,0.5,0.5,0.5,2,6.5,1,0.5,0.5,0.5,0.5,0.5,0.5,0.5,0.5,0.5,0.5,1,3,5.5,1,0.5,0.5,0.5,0.5,0.5,0.5,0.5,0.5,0.5,0.5,0.5,0.5,0.5,0.5,0.5,0.5,0.5,0.5,0.5,0.5];
const pgVals = [pg0,pg1,pg2,pg3,pg4,pg5,pg6,pg7,pg8,pg9,pg10,pg11];

// ===== Figure 2 data (x from -2 to 2) =====
const f2Ids = ['264459943','322078735','385626507'];
const f2Ymin = [-125,-95,-65];
const f2Ymax = [46,46,50];
const f2Yticks = [[0,-50,-100],[40,20,0,-20,-40,-60,-80],[40,20,0,-20,-40,-60]];
const f2a = [31,22,15,14,16,18,15,5,-10,-25,-34,-36,-25,0,18,12,8,5,4,0,-10,-30,-48,-58,-61,-50,-20,5,14,8,-2,-6,-6,-3,0,-15,-45,-75,-92,-85,-50,-15,0,3,-2,-8,-12,-17,-10,-30,-65,-95,-108,-105,-60,-10,4,0,-10,-25,-30,-20,-5,2,2,-5,-25,-45,-49,-35,-10,3,7,5,-5,-9,-5,3,12,20,25];
const f2b = [-10,5,8,0,-3,15,27,15,-5,5,14,-20,-60,-73,-30,10,-1,10,22,27,20,5,-1,-3,-8,-14,-20,-35,-50,-45,-10,10,18,15,5,0,15,27,15,-5,-10,-25,-42,-40,-10,10,19,10,0,10,25,15,5,0,15,20,-10,-55,-70,-30,28,18,2,5,20,15,0,5,15,18,0,-40,-45,-5,5,-10,0,15,12,0,17];
const f2c = [6,4,0,-5,-10,-13,-14,-10,-5,0,4,6,5,-2,-15,-28,-38,-43,-42,-30,-15,0,12,19,22,21,15,8,0,-7,-12,-13,-8,0,8,12,14,10,-5,-22,-38,-47,-47,-35,-15,0,12,20,24,23,18,12,6,2,0,1,6,12,18,21,22,21,14,5,-6,-15,-21,-21,-12,0,10,18,24,27,27,25,18,14,13,12,13];
const f2Vals = [f2a,f2b,f2c];

// ===== Figure 3 data =====
const f3V = [150,150,180,185,190,195,200,205,210,210,215,220,225,230,235,240,245,250,250,255,260,262,265,270,275,275,280,282,285,290,290,295,295,300,300,305,305,310,315,320,325,330,330,335,335,340,345,345,350,355,355,360,360,365,375,385,390,395,395,400,400,405,410,415,420,420,425,430,435,440,440,450,450,455,455,455,460,465,470,470,475,480,485,490,495,495,500,505,510,520,525,530,540,550,560,570,575,580,600,80,105,175,245,260,300,455,245,265,275,240];
const f3Vsini = [190,185,245,145,175,170,165,210,185,245,270,165,300,250,225,240,260,230,205,270,190,245,220,175,260,300,185,325,235,210,165,200,260,215,280,230,100,270,200,145,110,250,230,95,190,165,150,325,340,320,355,105,200,290,300,340,295,240,115,225,260,180,250,210,300,200,310,270,185,240,350,225,270,315,140,160,200,255,330,165,280,210,240,300,135,280,250,215,265,240,280,220,250,130,265,200,205,290,50,20,80,48,70,35,435,425,210,130,160,190];

// ===== Figure 4 data (bins of 20 km/s from 0) =====
const f4TopVsini = [0.005,0.012,0.02,0.03,0.029,0.057,0.05,0.062,0.07,0.095,0.088,0.08,0.102,0.07,0.077,0.072,0.03,0.02,0.01,0.003,0.006,0.002,0.002,0.002,0.002,0.003,0.001,0,0,0,0,0,0];
const f4TopV = [0,0,0,0.005,0.005,0,0.002,0.012,0.03,0.03,0.03,0.04,0.055,0.045,0.055,0.055,0.07,0.055,0.085,0.06,0.08,0.055,0.03,0.055,0.03,0.01,0.05,0.02,0.035,0,0,0,0];
const f4BotVsini = [0.02,0.015,0.02,0.04,0.03,0.02,0.08,0.08,0.085,0.08,0.08,0.125,0.13,0.1,0.05,0.03,0.015,0.015,0.005,0.005,0.008,0.005,0,0,0,0,0,0,0,0,0,0,0];
const f4BotV = [0.035,0.02,0,0,0,0.02,0.035,0.015,0.015,0.015,0.065,0.045,0.02,0.15,0.065,0.065,0.045,0.025,0.05,0.115,0.05,0.035,0.035,0,0.015,0,0,0.015,0,0,0,0,0];
const f4BinWidth = 20;

// ===== Figure 5 data (bins of 0.1 from 0) =====
const f5Frac = [0,0.018,0.012,0.097,0.14,0.152,0.182,0.128,0.115,0.067,0.079,0.005];
const f5BinWidth = 0.1;

// ===== Figure 6 data =====
const f6Cats = ['B0-B1','B2-B3','B4-B5','B6-B7','B8-A0'];
const f6Pos = [1,1.8,3.2,4.2,5.25];
const f6Ratio = [0.632,0.658,0.668,0.678,0.700];
const f6Lo = [0.595,0.636,0.629,0.621,0.660];
const f6Hi = [0.669,0.680,0.706,0.735,0.740];
const f6Xerr = [0.26,0.24,0.24,0.29,0.36];

// ===== helpers =====
const NS = 'http://www.w3.org/2000/svg';
function mk(parent, tag, attrs, name){
  const e = document.createElementNS(NS, tag);
  for (const k in attrs) e.setAttribute(k, attrs[k]);
  
  
  parent.appendChild(e);
  return e;
}
function txt(parent, x, y, s, fs, anchor, name, extra){
  const a = {x:x, y:y, 'font-family':'Liberation Sans, sans-serif', 'font-size':fs, 'text-anchor':anchor||'start', fill:'#111'};
  if (extra) for (const k in extra) a[k] = extra[k];
  const t = mk(parent, 'text', a, name);
  t.textContent = s;
  return t;
}
function axes(g, o){
  const sx = v => o.x + (v - o.xmin) / (o.xmax - o.xmin) * o.w;
  const sy = v => o.y + o.h - (v - o.ymin) / (o.ymax - o.ymin) * o.h;
  const tl = o.tl || 4;
  o.xt.forEach(v => {
    const X = sx(v);
    mk(g, 'line', {x1:X, x2:X, y1:o.y+o.h, y2:o.y+o.h-tl, stroke:'#000', 'stroke-width':1}, 'x-tick');
    mk(g, 'line', {x1:X, x2:X, y1:o.y, y2:o.y+tl, stroke:'#000', 'stroke-width':1}, 'x-tick-top');
    if (o.xl !== false) txt(g, X, o.y+o.h+o.fs+3, String(v), o.fs, 'middle', 'x-tick-label');
  });
  o.yt.forEach(v => {
    const Y = sy(v);
    mk(g, 'line', {x1:o.x, x2:o.x+tl, y1:Y, y2:Y, stroke:'#000', 'stroke-width':1}, 'y-tick');
    mk(g, 'line', {x1:o.x+o.w, x2:o.x+o.w-tl, y1:Y, y2:Y, stroke:'#000', 'stroke-width':1}, 'y-tick-right');
    if (o.yl !== false) txt(g, o.x-3, Y+o.fs*0.35, String(v), o.fs, 'end', 'y-tick-label');
  });
  mk(g, 'rect', {x:o.x, y:o.y, width:o.w, height:o.h, fill:'none', stroke:'#000', 'stroke-width':o.bw||1.8}, 'plot-frame');
  return {sx, sy};
}
function seriesPath(vals, x0, x1, sx, sy){
  let d = '', pen = false;
  const n = vals.length;
  vals.forEach((v, i) => {
    if (v === null) { pen = false; return; }
    const X = sx(x0 + (x1 - x0) * i / (n - 1)), Y = sy(v);
    d += (pen ? 'L' : 'M') + X.toFixed(1) + ' ' + Y.toFixed(1);
    pen = true;
  });
  return d;
}
function stepPath(vals, bw, sx, sy){
  let d = 'M' + sx(0).toFixed(1) + ' ' + sy(0).toFixed(1);
  vals.forEach((v, i) => {
    d += 'V' + sy(v).toFixed(1) + 'H' + sx((i + 1) * bw).toFixed(1);
  });
  d += 'V' + sy(0).toFixed(1);
  return d;
}
const PURPLE = '#9400d3';

// ===== Figure 1 =====
(function(){
  const svg = document.getElementById('fig1');
  const colX = [91, 269, 447, 625], W = 142, H = 67;
  const rowY = [154, 242.3, 330.6, 418.9, 507.2, 595.5];
  const lcLabelPos = ['bl','br','bl','tr','bl','bl','br','bl','bl','bl','bl','tr'];
  for (let k = 0; k < 12; k++) {
    const r = Math.floor(k / 2), p = k % 2;
    const g1 = mk(svg, 'g', {}, 'light-curve-panel-' + lcIds[k]);
    const a = axes(g1, {x:colX[p*2], y:rowY[r], w:W, h:H, xmin:lcXmin[k], xmax:lcXmax[k], ymin:lcYmin[k], ymax:lcYmax[k], xt:lcXticks[k], yt:lcYticks[k], fs:8.5, tl:3.5, bw:1.6});
    mk(g1, 'path', {d:seriesPath(lcVals[k], lcX0[k], lcX1[k], a.sx, a.sy), fill:'none', stroke:PURPLE, 'stroke-width':2.3, 'stroke-linejoin':'round'}, 'light-curve-line');
    const pos = lcLabelPos[k];
    const lx = pos === 'bl' ? colX[p*2] + 14 : colX[p*2] + W - 4;
    const ly = pos === 'tr' ? rowY[r] + 13 : rowY[r] + H - 7;
    txt(g1, lx, ly, lcIds[k], 8.5, pos === 'bl' ? 'start' : 'end', 'tic-label');
    const g2 = mk(svg, 'g', {}, 'periodogram-panel-' + lcIds[k]);
    const b = axes(g2, {x:colX[p*2+1], y:rowY[r], w:W, h:H, xmin:0, xmax:pgXmax[k], ymin:0, ymax:pgYmax[k], xt:pgXticks[k], yt:pgYticks[k], fs:8.5, tl:3.5, bw:1.6});
    mk(g2, 'path', {d:seriesPath(pgVals[k], 0, pgXmax[k], b.sx, b.sy), fill:'none', stroke:PURPLE, 'stroke-width':1}, 'periodogram-line');
    txt(g2, colX[p*2+1] + W - 6, rowY[r] + 13, lcIds[k], 8.5, 'end', 'tic-label');
  }
  [0, 2].forEach(c => {
    txt(svg, colX[c] + W/2, 687, 'Time (d)', 9, 'middle', 'x-axis-title');
    const t = txt(svg, colX[c+1] + W/2, 689, 'Frequency (d', 9, 'middle', 'x-axis-title');
    const s = mk(t, 'tspan', {dy:-4, 'font-size':6}, 'superscript');
    s.textContent = '-1';
    const s2 = mk(t, 'tspan', {dy:4}, 'paren');
    s2.textContent = ')';
    txt(svg, 0, 0, 'ΔT (ppt)', 9, 'middle', 'y-axis-title', {transform:'translate(' + (colX[c] - 22) + ',409) rotate(-90)'});
    txt(svg, 0, 0, 'Amplitude (ppt)', 9, 'middle', 'y-axis-title', {transform:'translate(' + (colX[c+1] - 22) + ',409) rotate(-90)'});
  });
})();

// ===== Figures 2 & 3 =====
(function(){
  const svg = document.getElementById('fig23');
  const panelY = [154, 277, 400], PH = 123;
  const labelXY = [[142,262],[219,385],[142,422]];
  for (let k = 0; k < 3; k++) {
    const g = mk(svg, 'g', {}, 'fig2-panel-' + f2Ids[k]);
    const a = axes(g, {x:116, y:panelY[k], w:258, h:PH, xmin:-2, xmax:2, ymin:f2Ymin[k], ymax:f2Ymax[k], xt:[-2,-1,0,1,2], yt:f2Yticks[k], fs:10, tl:6, xl:k === 2, bw:1.6});
    mk(g, 'path', {d:seriesPath(f2Vals[k], -2, 2, a.sx, a.sy), fill:'none', stroke:PURPLE, 'stroke-width':2, 'stroke-linejoin':'round'}, 'fig2-light-curve');
    txt(g, labelXY[k][0], labelXY[k][1], f2Ids[k], 10, 'start', 'tic-label');
  }
  txt(svg, 245, 552, 'Time (d)', 10.5, 'middle', 'x-axis-title');
  txt(svg, 0, 0, 'ΔT (ppt)', 10.5, 'middle', 'y-axis-title', {transform:'translate(87,337) rotate(-90)'});

  const g3 = mk(svg, 'g', {}, 'fig3-scatter');
  const a = axes(g3, {x:490, y:154, w:258, h:184, xmin:0, xmax:600, ymin:0, ymax:600, xt:[0,100,200,300,400,500,600], yt:[0,100,200,300,400,500,600], fs:10, tl:6, bw:1.6});
  mk(g3, 'line', {x1:a.sx(60), y1:a.sy(60), x2:a.sx(600), y2:a.sy(600), stroke:'#2a9d7e', 'stroke-width':1}, 'sin-i-equals-1-line');
  mk(g3, 'line', {x1:a.sx(60), y1:a.sy(400), x2:a.sx(140), y2:a.sy(400), stroke:'#333', 'stroke-width':1.2}, 'error-cross-horizontal');
  mk(g3, 'line', {x1:a.sx(100), y1:a.sy(370), x2:a.sx(100), y2:a.sy(430), stroke:'#333', 'stroke-width':1.2}, 'error-cross-vertical');
  f3V.forEach((v, i) => {
    mk(g3, 'circle', {cx:a.sx(v), cy:a.sy(f3Vsini[i]), r:3.2, fill:PURPLE}, 'star-point');
  });
  const xt = txt(g3, 619, 367, 'v (km s', 10.5, 'middle', 'x-axis-title');
  const sp = mk(xt, 'tspan', {dy:-4, 'font-size':7}, 'superscript');
  sp.textContent = '-1';
  const sp2 = mk(xt, 'tspan', {dy:4}, 'paren');
  sp2.textContent = ')';
  txt(g3, 0, 0, 'v sin i (km s-1)', 10, 'middle', 'y-axis-title', {transform:'translate(459,246) rotate(-90)'});
})();

// ===== Figures 4, 5, 6 =====
(function(){
  const svg = document.getElementById('fig456');
  // Fig 4
  const panels = [
    {y:154, ymax:0.145, yt:[0,0.05,0.1], vs:f4TopVsini, v:f4TopV, lab:'18000-30000', ly:175, xl:false},
    {y:276, ymax:0.234, yt:[0,0.1,0.2], vs:f4BotVsini, v:f4BotV, lab:'10000-18000', ly:299, xl:true}
  ];
  panels.forEach((P, k) => {
    const g = mk(svg, 'g', {}, 'fig4-panel-' + P.lab);
    const a = axes(g, {x:116, y:P.y, w:258, h:123, xmin:0, xmax:650, ymin:0, ymax:P.ymax, xt:[0,100,200,300,400,500,600], yt:P.yt, fs:10, tl:6, xl:P.xl, bw:1.6});
    mk(g, 'path', {d:stepPath(P.v, f4BinWidth, a.sx, a.sy), fill:'none', stroke:'#86c5e6', 'stroke-width':1.5}, 'v-histogram');
    mk(g, 'path', {d:stepPath(P.vs, f4BinWidth, a.sx, a.sy), fill:'none', stroke:PURPLE, 'stroke-width':1.8, 'stroke-dasharray':'2 2.5'}, 'vsini-histogram');
    txt(g, 355, P.ly, P.lab, 10, 'end', 'temperature-range-label');
  });
  txt(svg, 162, 172, 'v sin i', 10, 'end', 'legend-vsini');
  mk(svg, 'line', {x1:170, x2:202, y1:168, y2:168, stroke:PURPLE, 'stroke-width':2, 'stroke-dasharray':'2 2.5'}, 'legend-vsini-swatch');
  txt(svg, 162, 183, 'v', 10, 'end', 'legend-v');
  mk(svg, 'line', {x1:170, x2:202, y1:179, y2:179, stroke:'#86c5e6', 'stroke-width':1.5}, 'legend-v-swatch');
  const xt4 = txt(svg, 245, 429, 'v or v sin i (km s', 10.5, 'middle', 'x-axis-title');
  const t4 = mk(xt4, 'tspan', {dy:-4, 'font-size':7}, 'superscript');
  t4.textContent = '-1';
  const t4b = mk(xt4, 'tspan', {dy:4}, 'paren');
  t4b.textContent = ')';
  txt(svg, 0, 0, 'Fraction of stars', 10.5, 'middle', 'y-axis-title', {transform:'translate(86,287) rotate(-90)'});

  // Fig 5
  const g5 = mk(svg, 'g', {}, 'fig5-histogram');
  const a5 = axes(g5, {x:494, y:154, w:258, h:122, xmin:0, xmax:1.2, ymin:0, ymax:0.2, xt:[0,0.2,0.4,0.6,0.8,1,1.2], yt:[0,0.05,0.1,0.15,0.2], fs:10, tl:6, bw:1.6});
  mk(g5, 'path', {d:stepPath(f5Frac, f5BinWidth, a5.sx, a5.sy), fill:'none', stroke:'#a14fd8', 'stroke-width':1.8}, 'v-over-vc-histogram');
  txt(g5, 624, 306, 'v/v', 10.5, 'middle', 'x-axis-title');
  txt(g5, 0, 0, 'Fraction of stars', 10.5, 'middle', 'y-axis-title', {transform:'translate(459,215) rotate(-90)'});

  // Fig 6
  const g6 = mk(svg, 'g', {}, 'fig6-errorbars');
  const a6 = axes(g6, {x:490, y:395, w:258, h:184, xmin:0, xmax:6, ymin:0.55, ymax:0.75, xt:[], yt:[0.55,0.6,0.65,0.7,0.75], fs:10, tl:6, bw:1.6});
  f6Pos.forEach((p, i) => {
    const X = a6.sx(p);
    mk(g6, 'line', {x1:X, x2:X, y1:579, y2:573, stroke:'#000', 'stroke-width':1}, 'x-tick');
    mk(g6, 'line', {x1:X, x2:X, y1:395, y2:401, stroke:'#000', 'stroke-width':1}, 'x-tick-top');
    txt(g6, 0, 0, f6Cats[i], 9.5, 'end', 'category-label', {transform:'translate(' + (X + 4) + ',590) rotate(-60)', 'font-style':'italic'});
    mk(g6, 'line', {x1:X, x2:X, y1:a6.sy(f6Lo[i]), y2:a6.sy(f6Hi[i]), stroke:'#a14fd8', 'stroke-width':1.2}, 'error-bar-vertical');
    [f6Lo[i], f6Hi[i]].forEach(v => {
      mk(g6, 'line', {x1:X-4, x2:X+4, y1:a6.sy(v), y2:a6.sy(v), stroke:'#a14fd8', 'stroke-width':1.2}, 'error-bar-cap');
    });
    const xl = a6.sx(p - f6Xerr[i]), xr = a6.sx(p + f6Xerr[i]), Y = a6.sy(f6Ratio[i]);
    mk(g6, 'line', {x1:xl, x2:xr, y1:Y, y2:Y, stroke:'#a14fd8', 'stroke-width':1.2}, 'error-bar-horizontal');
    mk(g6, 'line', {x1:xl, x2:xl, y1:Y-4, y2:Y+4, stroke:'#a14fd8', 'stroke-width':1.2}, 'error-bar-cap');
    mk(g6, 'line', {x1:xr, x2:xr, y1:Y-4, y2:Y+4, stroke:'#a14fd8', 'stroke-width':1.2}, 'error-bar-cap');
    mk(g6, 'circle', {cx:X, cy:Y, r:4.5, fill:'#009e73'}, 'ratio-point');
  });
  txt(g6, 619, 624, 'Spectral type', 10.5, 'middle', 'x-axis-title');
  txt(g6, 0, 0, 'v/vc', 10.5, 'middle', 'y-axis-title', {transform:'translate(452,486) rotate(-90)'});
})();
</script>
</body></html>
